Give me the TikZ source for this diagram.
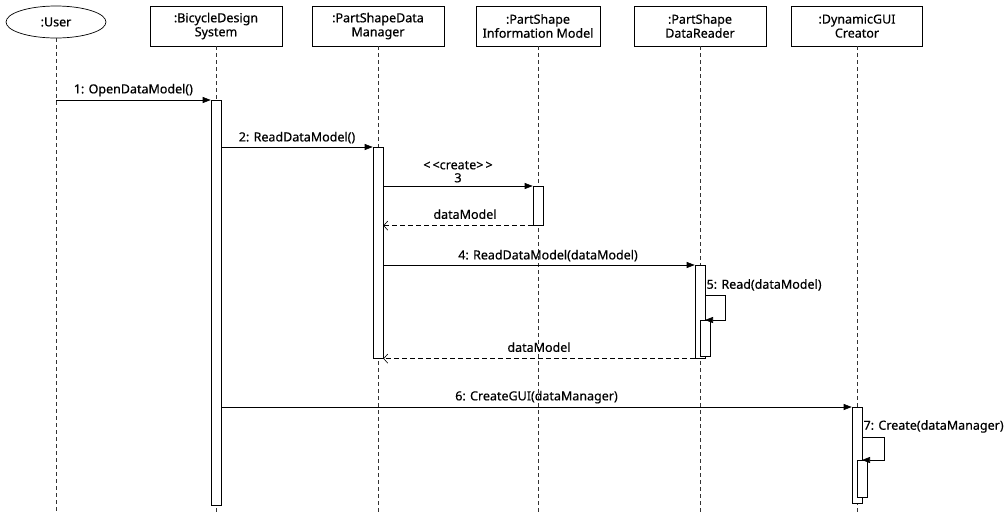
\documentclass[tikz,border=0pt]{standalone}
\usepackage{fontspec}
\setmainfont{Noto Sans}[FakeBold=0.5]
\usetikzlibrary{arrows.meta, positioning, shapes.geometric}

\begin{document}
\begin{tikzpicture}[x=1pt, y=-1pt, line width=0.6pt,
        font=\fontsize{12.5}{14}\selectfont,
        obj/.style={draw, minimum width=132pt, minimum height=40pt, inner sep=1pt, align=center},
        actor/.style={draw, ellipse, line width=0.7pt, minimum width=100pt, minimum height=32pt},
        act/.style={draw, fill=white, minimum width=10pt, inner sep=0pt, anchor=north},
        life/.style={dash pattern=on 4pt off 3pt, black!80},
        msg/.style={-{Triangle[length=8pt, width=6pt]}},
        ret/.style={dash pattern=on 5pt off 3pt, -{Straight Barb[length=4pt, width=9pt]}}
    ]
        \useasboundingbox (0,0) rectangle (1006,512);

        % --- objects ---
        \node[actor] (user) at (56,22) {:User};
        \node[obj] (bds) at (216,26) {:BicycleDesign\\System};
        \node[obj] (psdm) at (378,26) {:PartShapeData\\Manager};
        \node[obj, minimum width=124pt] (psim) at (538,26) {:PartShape\\Information Model};
        \node[obj] (dr) at (700,26) {:PartShape\\DataReader};
        \node[obj, minimum width=131pt] (gui) at (857,26) {:DynamicGUI\\Creator};

        % --- lifelines ---
        \coordinate (bot) at (0,512);
        \foreach \o in {user,bds,psdm,psim,dr,gui} {
            \draw[life] (\o.south) -- (\o.south |- bot);
        }

        % --- activations ---
        \node[act, minimum height=405pt] (bds-a) at (bds |- 0,100) {};
        \node[act, minimum height=211pt] (psdm-a) at (psdm |- 0,147) {};
        \node[act, minimum height=39pt] (psim-a) at (psim |- 0,186) {};
        \node[act, minimum height=93pt] (dr-a) at (dr |- 0,265) {};
        \node[act, minimum height=36pt, xshift=5pt] (dr-b) at (dr |- 0,320) {};
        \node[act, minimum height=96pt] (gui-a) at (gui |- 0,407) {};
        \node[act, minimum height=37pt, xshift=5pt] (gui-b) at (gui |- 0,460) {};

        % --- messages ---
        \draw[msg] (user |- bds-a.north) -- node[above] {1: OpenDataModel()} (bds-a.north west);
        \draw[msg] (bds-a.east |- psdm-a.north) -- node[above] {2: ReadDataModel()} (psdm-a.north west);
        \draw[msg] (psdm-a.east |- psim-a.north) -- node[above, align=center, font=\fontsize{12.5}{13}\selectfont] {<\,<create>\,>\\3} (psim-a.north west);
        \draw[ret] (psim-a.south west) -- node[above=3pt, xshift=7pt] {dataModel} (psdm-a.east |- psim-a.south);
        \draw[msg] (psdm-a.east |- dr-a.north) -- node[above, xshift=9pt] {4: ReadDataModel(dataModel)} (dr-a.north west);

        % self call 5
        \coordinate (s5) at ([yshift=-30pt]dr-a.north east);
        \node[anchor=south west, inner sep=1pt] (l5) at ([yshift=3pt]s5) {5: Read(dataModel)};
        \draw[msg] (s5) -- ++(20,0) |- (dr-b.north);

        \draw[ret] (dr-a.south west) -- node[above=3pt] {dataModel} (psdm-a.south east);
        \draw[msg] (bds-a.east |- gui-a.north) -- node[above] {6: CreateGUI(dataManager)} (gui-a.north west);

        % self call 7
        \coordinate (s7) at ([yshift=-30pt]gui-a.north east);
        \node[anchor=south west, inner sep=1pt] (l7) at ([yshift=3pt]s7) {7: Create(dataManager)};
        \draw[msg] (s7) -- ++(22,0) |- (gui-b.north);

    \end{tikzpicture}
\end{document}
